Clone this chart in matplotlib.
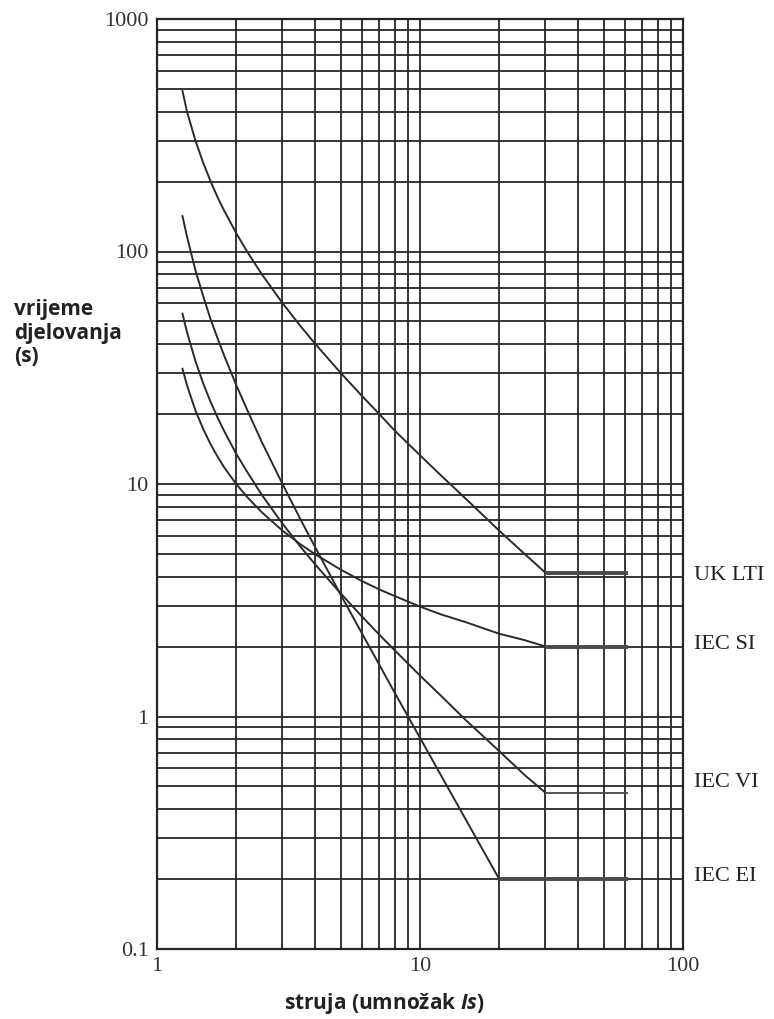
"""
Inverse-time overcurrent relay characteristics (IEC SI / VI / EI, UK LTI)
on a log-log grid. Values read off the reference chart.
"""

import matplotlib
matplotlib.use("Agg")
import matplotlib.pyplot as plt
import matplotlib.transforms as mtransforms

# Data ############################################################

# multiples of setting current shared by the four curves
mult = [1.25, 1.3, 1.4, 1.5, 1.6, 1.7, 1.8, 2, 2.2, 2.5, 3, 3.5, 4, 5, 6,
        7, 8, 10, 12, 15, 20, 25, 30]

ukl_t = [490, 400, 300, 240, 200, 171, 150, 120, 100, 80, 60, 48, 40, 30,
         24, 20, 17, 13.3, 10.9, 8.6, 6.3, 5.0, 4.15]

si_t = [31.3, 26.6, 20.7, 17.2, 14.8, 13.1, 11.8, 10.0, 8.8, 7.57, 6.3,
        5.52, 4.98, 4.28, 3.83, 3.52, 3.3, 2.97, 2.75, 2.54, 2.27, 2.13, 2.0]

vi_t = [54, 45, 33.8, 27, 22.5, 19.3, 16.9, 13.5, 11.3, 9.0, 6.75, 5.4, 4.5,
        3.38, 2.7, 2.25, 1.93, 1.5, 1.23, 0.96, 0.71, 0.56, 0.47]

# extremely inverse stops at 20x
ei_x = [1.25, 1.3, 1.4, 1.5, 1.6, 1.7, 1.8, 2, 2.2, 2.5, 3, 3.5, 4, 5, 6,
        7, 8, 10, 12, 15, 20]
ei_t = [142, 116, 83, 64, 51, 42.3, 35.7, 26.7, 20.9, 15.2, 10, 7.1, 5.33,
        3.33, 2.29, 1.67, 1.27, 0.81, 0.56, 0.357, 0.2]

# definite-time tails: start multiple, end multiple, time
tail_start = [30, 30, 30, 20]
tail_end   = [62, 62, 62, 62]
tail_time  = [4.15, 2.0, 0.47, 0.2]
tail_width = [2.8, 2.8, 1.3, 2.8]

curve_names = ["UK LTI", "IEC SI", "IEC VI", "IEC EI"]
label_y     = [4.06, 2.05, 0.52, 0.206]

x_major = [1, 10, 100]
y_major = [0.1, 1, 10, 100, 1000]


# Plot ##################################

def main() -> None:
    fig = plt.figure(figsize=(7.74, 10.19), dpi=100)
    ax = fig.add_axes([157 / 774, 70 / 1019, 526 / 774, 930 / 1019])

    ax.set_xscale("log")
    ax.set_yscale("log")
    ax.set_xlim(1, 100)
    ax.set_ylim(0.1, 1000)

    grid_kw = dict(color="#262626", linewidth=1.3, zorder=1)
    for dec in [1, 10]:
        for m in range(2, 10):
            ax.axvline(dec * m, **grid_kw)
    for dec in [0.1, 1, 10, 100]:
        for m in range(1, 10):
            ax.axhline(dec * m, **grid_kw)
    for v in x_major:
        ax.axvline(v, **grid_kw)

    for s in ax.spines.values():
        s.set_color("#262626")
        s.set_linewidth(1.6)

    curve_kw = dict(color="#2b2b2b", linewidth=1.4, zorder=3)
    for xs, ts in [(mult, ukl_t), (mult, si_t), (mult, vi_t), (ei_x, ei_t)]:
        ax.plot(xs, ts, **curve_kw)

    for x0, x1, t, w in zip(tail_start, tail_end, tail_time, tail_width):
        ax.plot([x0, x1], [t, t], color="#4a4a4a", linewidth=w,
                solid_capstyle="butt", zorder=3)

    trans = mtransforms.blended_transform_factory(ax.transAxes, ax.transData)
    for name, ly in zip(curve_names, label_y):
        ax.text(1.02, ly, name, transform=trans, ha="left", va="center",
                fontsize=16, family="Liberation Serif", color="#222222")

    ax.set_xticks(x_major)
    ax.set_xticklabels(["1", "10", "100"])
    ax.set_yticks(y_major)
    ax.set_yticklabels(["0.1", "1", "10", "100", "1000"])
    ax.minorticks_off()
    ax.tick_params(length=0, pad=6, labelsize=16, colors="#333333")
    for lab in ax.get_xticklabels() + ax.get_yticklabels():
        lab.set_family("Liberation Serif")

    plt.rcParams["mathtext.fontset"] = "custom"
    plt.rcParams["mathtext.it"] = "Open Sans:italic:bold"
    fig.text(384 / 774, 1 - 1004 / 1019, r"struja (umnožak $Is$)",
             ha="center", va="center", fontsize=15, fontweight="bold",
             family="Open Sans", color="#222222")
    fig.text(14 / 774, 1 - 333 / 1019, "vrijeme\ndjelovanja\n(s)",
             ha="left", va="center", fontsize=15, fontweight="bold",
             family="Open Sans", color="#222222", linespacing=1.15)

    fig.savefig("out.png", dpi=100)
    plt.close(fig)


if __name__ == "__main__":
    main()
